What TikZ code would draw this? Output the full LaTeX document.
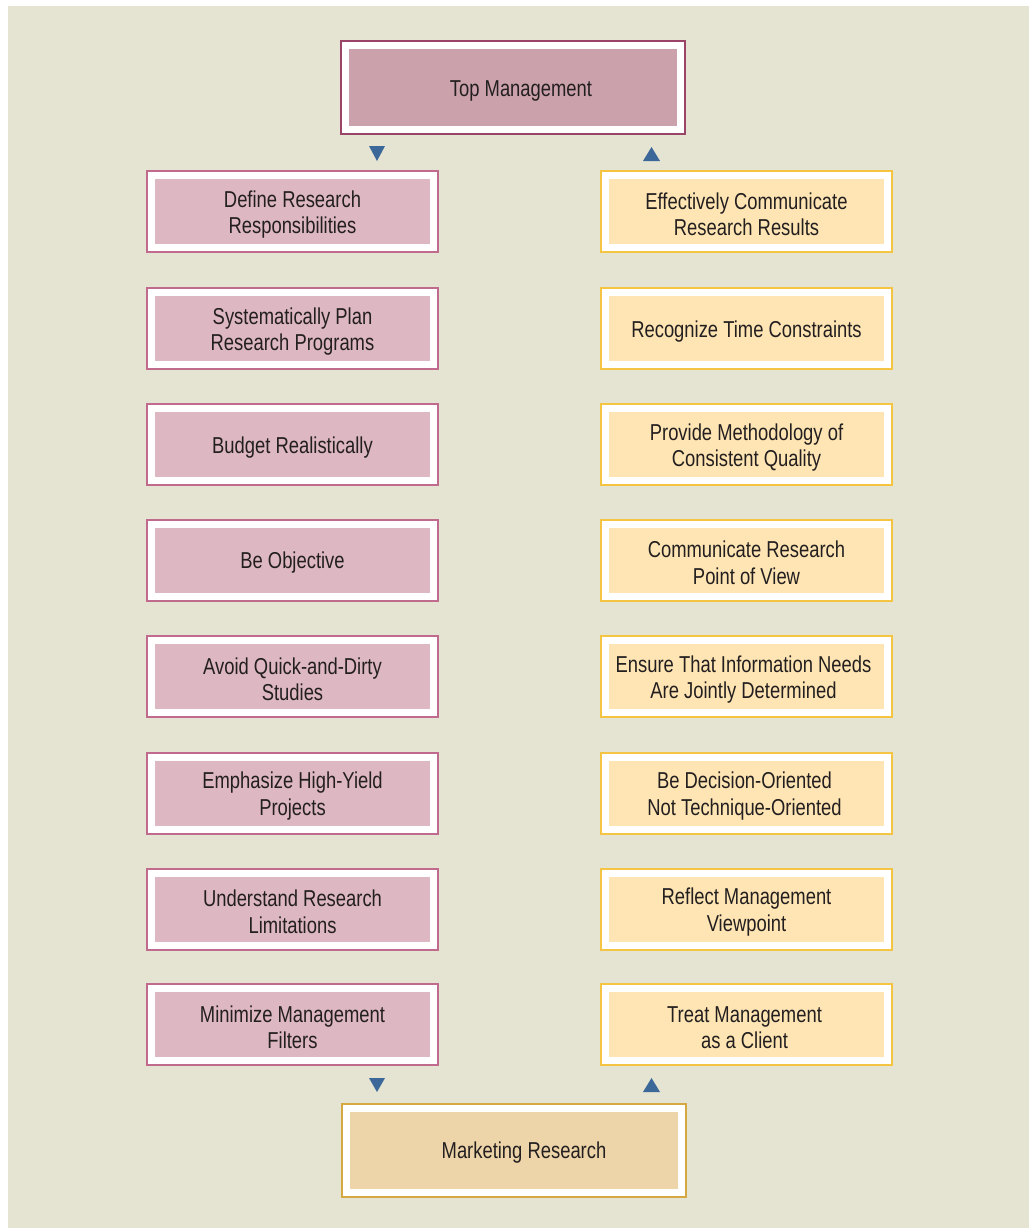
\documentclass[tikz,border=0pt]{standalone}
\usepackage{fontspec}
\setmainfont{Liberation Sans}[FakeStretch=0.8]
\definecolor{bgbeige}{HTML}{E5E4D3}
\definecolor{topfill}{HTML}{CBA2AB}
\definecolor{topline}{HTML}{9A4468}
\definecolor{lfill}{HTML}{DDB7C2}
\definecolor{lline}{HTML}{C06A8D}
\definecolor{rfill}{HTML}{FEE5B3}
\definecolor{rline}{HTML}{F6C443}
\definecolor{bfill}{HTML}{EDD5A9}
\definecolor{bline}{HTML}{D6A842}
\definecolor{tipblue}{HTML}{3B6898}
\definecolor{ink}{HTML}{231F20}
\begin{document}
\begin{tikzpicture}[x=1pt,y=-1pt,
  txt/.style={align=center, text=ink, inner sep=0pt,
    font=\fontsize{23}{26.5}\selectfont, yshift=-3pt},
  box/.style={draw=white, line width=7pt, outer sep=0pt, inner sep=0pt},
  lbox/.style={box, fill=lfill, minimum width=282pt, minimum height=72pt},
  rbox/.style={box, fill=rfill, minimum width=282pt, minimum height=72pt},
  endbox/.style={box, minimum width=335pt, minimum height=84pt},
  frame/.style={line width=2pt},
  tip/.style={fill=tipblue}]
% page and backdrop
\fill[white] (0,0) rectangle (1029,1228);
\fill[bgbeige] (8,6) rectangle (1029,1228);

% end points of the chain
\node[endbox, fill=topfill, label={[txt, xshift=8pt]center:Top Management}] (top) at (513,87.5) {};
\node[endbox, fill=bfill, label={[txt, xshift=10pt]center:Marketing Research}] (mr) at (514,1150) {};

% left column: what management should do
\node[lbox, label={[txt]center:Define Research\\Responsibilities}] (l1) at (292.5,211.5) {};
\node[lbox, label={[txt]center:Systematically Plan\\Research Programs}] (l2) at (292.5,328.5) {};
\node[lbox, label={[txt]center:Budget Realistically}] (l3) at (292.5,444.5) {};
\node[lbox, label={[txt]center:Be Objective}] (l4) at (292.5,560) {};
\node[lbox, label={[txt]center:Avoid Quick-and-Dirty\\Studies}] (l5) at (292.5,676.5) {};
\node[lbox, label={[txt]center:Emphasize High-Yield\\Projects}] (l6) at (292.5,793) {};
\node[lbox, label={[txt]center:Understand Research\\Limitations}] (l7) at (292.5,909) {};
\node[lbox, label={[txt]center:Minimize Management\\Filters}] (l8) at (292.5,1024.5) {};

% right column: what research should do
\node[rbox, label={[txt]center:Effectively Communicate\\Research Results}] (r1) at (746.5,211.5) {};
\node[rbox, label={[txt]center:Recognize Time Constraints}] (r2) at (746.5,328.5) {};
\node[rbox, label={[txt]center:Provide Methodology of\\Consistent Quality}] (r3) at (746.5,444.5) {};
\node[rbox, label={[txt]center:Communicate Research\\Point of View}] (r4) at (746.5,560) {};
\node[rbox, label={[txt, xshift=-3pt]center:Ensure That Information Needs\\Are Jointly Determined}] (r5) at (746.5,676.5) {};
\node[rbox, label={[txt, xshift=-2pt]center:Be Decision-Oriented\\Not Technique-Oriented}] (r6) at (746.5,793) {};
\node[rbox, label={[txt]center:Reflect Management\\Viewpoint}] (r7) at (746.5,909) {};
\node[rbox, label={[txt, xshift=-2pt]center:Treat Management\\as a Client}] (r8) at (746.5,1024.5) {};

% outer frames
\draw[frame, topline] ([shift={(-4.5pt,-4.5pt)}]top.south west) rectangle ([shift={(4.5pt,4.5pt)}]top.north east);
\draw[frame, bline] ([shift={(-4.5pt,-4.5pt)}]mr.south west) rectangle ([shift={(4.5pt,4.5pt)}]mr.north east);
\foreach \n in {l1,l2,l3,l4,l5,l6,l7,l8}
  \draw[frame, lline] ([shift={(-4.5pt,-4.5pt)}]\n.south west) rectangle ([shift={(4.5pt,4.5pt)}]\n.north east);
\foreach \n in {r1,r2,r3,r4,r5,r6,r7,r8}
  \draw[frame, rline] ([shift={(-4.5pt,-4.5pt)}]\n.south west) rectangle ([shift={(4.5pt,4.5pt)}]\n.north east);

% direction markers
\coordinate (dtop) at (377,146);
\coordinate (utop) at (651.5,147);
\coordinate (dbot) at (377,1078);
\coordinate (ubot) at (651.5,1078);
\fill[tip] (dtop) ++(-8,0) -- ++(16,0) -- ++(-8,15) -- cycle;
\fill[tip] (dbot) ++(-8,0) -- ++(16,0) -- ++(-8,14) -- cycle;
\fill[tip] (utop) ++(0,0) -- ++(8.5,14) -- ++(-17,0) -- cycle;
\fill[tip] (ubot) ++(0,0) -- ++(8.5,14) -- ++(-17,0) -- cycle;
\end{tikzpicture}
\end{document}
